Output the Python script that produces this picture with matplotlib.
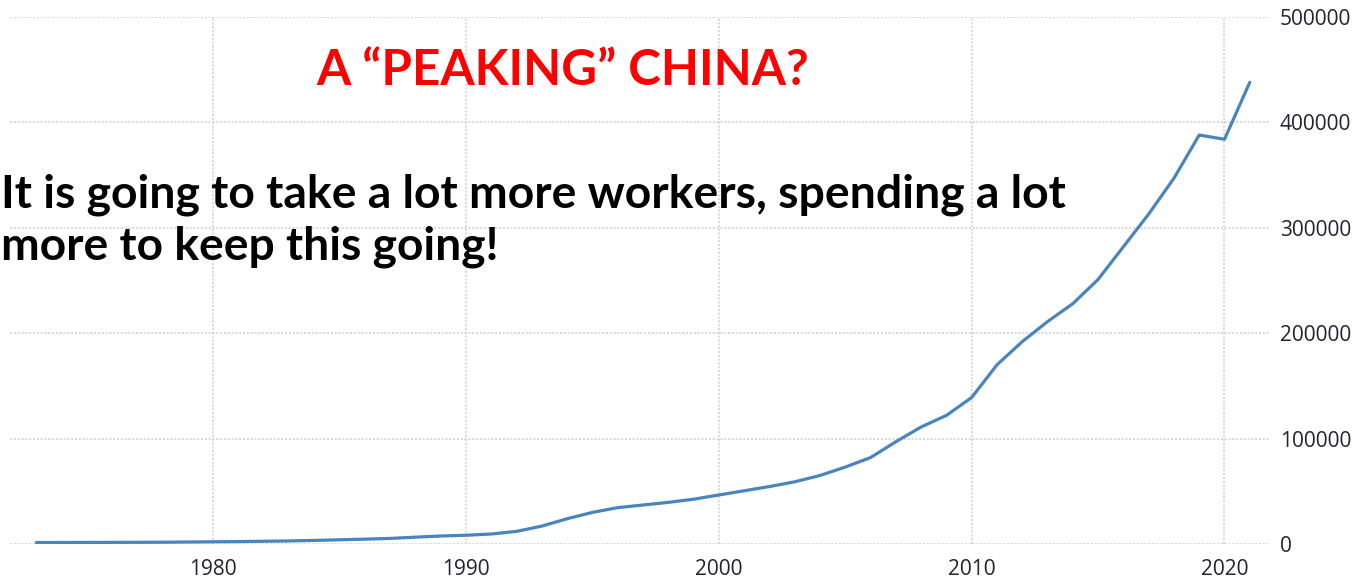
import matplotlib
matplotlib.use("Agg")
import matplotlib.pyplot as plt
from matplotlib.ticker import FixedLocator, FuncFormatter

# Annual series
years = [1973, 1974, 1975, 1976, 1977, 1978, 1979, 1980, 1981, 1982,
         1983, 1984, 1985, 1986, 1987, 1988, 1989, 1990, 1991, 1992,
         1993, 1994, 1995, 1996, 1997, 1998, 1999, 2000, 2001, 2002,
         2003, 2004, 2005, 2006, 2007, 2008, 2009, 2010, 2011, 2012,
         2013, 2014, 2015, 2016, 2017, 2018, 2019, 2020, 2021]
values = [1400, 1450, 1500, 1550, 1600, 1700, 1900, 2100, 2300, 2600,
          2900, 3400, 4000, 4600, 5300, 6500, 7600, 8300, 9500, 12000,
          17000, 24000, 30000, 34500, 37000, 39500, 42500, 46500, 50500, 54500,
          59000, 65000, 73000, 82000, 97000, 111000, 122000, 139000, 170000, 192000,
          211000, 228000, 251000, 282000, 313000, 347000, 388000, 384000, 438000]

x_ticks = [1980, 1990, 2000, 2010, 2020]
y_ticks = [0, 100000, 200000, 300000, 400000, 500000]

title_text = "A \u201cPEAKING\u201d CHINA?"
note_lines = ["It is going to take a lot more workers, spending a lot",
              "more to keep this going!"]

W, H, DPI = 1358, 581, 100
fig = plt.figure(figsize=(W / DPI, H / DPI), dpi=DPI, facecolor="white")

# axes in pixel-derived figure fractions
left, right, top, bottom = 10, 1270, 17, 544
ax = fig.add_axes([left / W, 1 - bottom / H, (right - left) / W, (bottom - top) / H])
ax.set_facecolor("white")

ax.plot(years, values, color="#4a84bd", lw=2.3, solid_capstyle="round",
        solid_joinstyle="round", zorder=3)

ax.set_xlim(1971.96, 2021.8)
ax.set_ylim(0, 500000)
ax.xaxis.set_major_locator(FixedLocator(x_ticks))
ax.yaxis.set_major_locator(FixedLocator(y_ticks))
ax.yaxis.set_major_formatter(FuncFormatter(lambda v, p: f"{int(v)}"))
ax.yaxis.tick_right()

for s in ax.spines.values():
    s.set_visible(False)

ax.grid(True, color="#d0d0d0", lw=1.1, linestyle=(0, (1.4, 1.1)), zorder=0)
ax.tick_params(axis="both", length=0, labelsize=15, labelcolor="#222233")
ax.tick_params(axis="y", pad=7)
ax.tick_params(axis="x", pad=11)
for lbl in ax.get_xticklabels() + ax.get_yticklabels():
    lbl.set_fontfamily(["Open Sans", "DejaVu Sans"])

# headline texts, sized to their measured widths
renderer = fig.canvas.get_renderer()


def fit_text(x_px, y_px, s, target_w, color, ha):
    t = fig.text(x_px / W, 1 - y_px / H, s, color=color, ha=ha, va="baseline",
                 fontsize=30, fontweight="bold", family=["Lato", "DejaVu Sans"])
    w = t.get_window_extent(renderer).width
    t.set_fontsize(30 * target_w / w)
    return t


fit_text(563, 85, title_text, 493, "#ff0000", "center")
fit_text(1, 207, note_lines[0], 1062, "#000000", "left")
fit_text(1, 259, note_lines[1], 496, "#000000", "left")

fig.savefig("out.png", dpi=DPI, facecolor="white")
